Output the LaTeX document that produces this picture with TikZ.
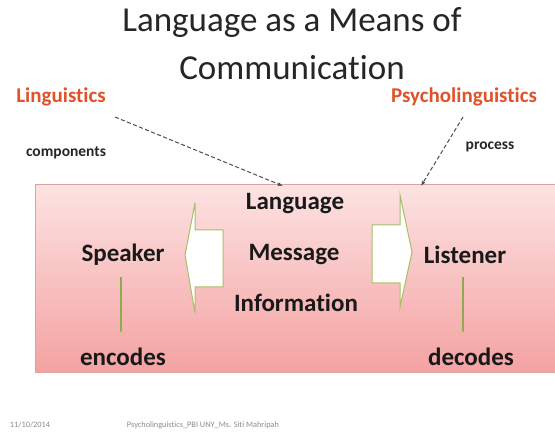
\documentclass[tikz,border=0pt]{standalone}
\usepackage{fontspec}
\setmainfont[Ligatures=NoCommon]{Carlito}
\usetikzlibrary{arrows.meta}
\definecolor{orangered}{HTML}{E0522A}
\definecolor{boxtop}{HTML}{FDE2E2}
\definecolor{boxbot}{HTML}{F4A2A2}
\definecolor{boxline}{HTML}{D7A3A3}
\definecolor{arrgreen}{HTML}{A6BF68}
\definecolor{linegreen}{HTML}{8FAA4F}
\tikzset{
  x=1pt, y=-1pt,
  title/.style={font=\fontsize{35}{40}\selectfont, text=black!85},
  field/.style={font=\fontsize{21}{24}\bfseries\selectfont, text=orangered},
  small/.style={font=\fontsize{15.5}{18}\bfseries\selectfont, text=black!85},
  inbox/.style={font=\fontsize{25}{28}\bfseries\selectfont, text=black!90},
  foot/.style={font=\fontsize{8.3}{10}\selectfont, text=black!45},
  dasharrow/.style={dash pattern=on 4pt off 2.5pt, black!70, line width=1pt, -{Latex[length=5pt,width=4pt]}},
  greenarrow/.style={linegreen, line width=1.1pt, -{Latex[length=3.5pt,width=3pt]}},
  blockarrow/.style={draw=arrgreen, fill=white, line width=1pt, line join=miter}
}
\begin{document}
\begin{tikzpicture}
\useasboundingbox (0,0) rectangle (555,433);
\fill[white] (0,0) rectangle (555,433);
% title
\node[title] (t1) at (292,23) {Language as a Means of};
\node[title] (t2) at (292,68) {Communication};
% field labels
\node[field] (ling) at (61,97) {Linguistics};
\node[field] (psy) at (464,97) {Psycholinguistics};
\node[small] (comp) at (66,153) {components};
\node[small] (proc) at (490,147) {process};
% box
\shade[top color=boxtop, bottom color=boxbot] (35,185) rectangle (556,372);
\draw[boxline, line width=1pt] (556,185) -- (35,185) -- (35,372) -- (556,372);
% dashed connectors
\coordinate (lingfrom) at (115,117);
\coordinate (lingto) at (283,186);
\coordinate (psyfrom) at (463,117);
\coordinate (psyto) at (421,186);
\draw[dasharrow] (lingfrom) -- (lingto);
\draw[dasharrow] (psyfrom) -- (psyto);
% block arrows
\draw[blockarrow] (185,255) -- (195,203) -- (195,230) -- (223,230) -- (223,287) -- (195,287) -- (195,313) -- cycle;
\draw[blockarrow] (412,252) -- (400,195) -- (400,225) -- (372,225) -- (372,283) -- (400,283) -- (400,307) -- cycle;
% texts inside box
\node[inbox] (lang) at (295,204) {Language};
\node[inbox] (msg) at (294,255) {Message};
\node[inbox] (info) at (296,303) {Information};
\node[inbox] (spk) at (123,255) {Speaker};
\node[inbox] (lst) at (465,255) {Listener};
\node[inbox] (enc) at (123,357) {encodes};
\node[inbox] (dec) at (471,357) {decodes};
\coordinate (spkdown) at (121,277);
\coordinate (encup) at (121,333);
\coordinate (lstdown) at (463,277);
\coordinate (decup) at (463,333);
\draw[greenarrow] (spkdown) -- (encup);
\draw[greenarrow] (lstdown) -- (decup);
% footer
\node[foot] (date) at (30,425) {11/10/2014};
\node[foot] (author) at (203,425) {Psycholinguistics\_PBI UNY\_Ms. Siti Mahripah};
\end{tikzpicture}
\end{document}
